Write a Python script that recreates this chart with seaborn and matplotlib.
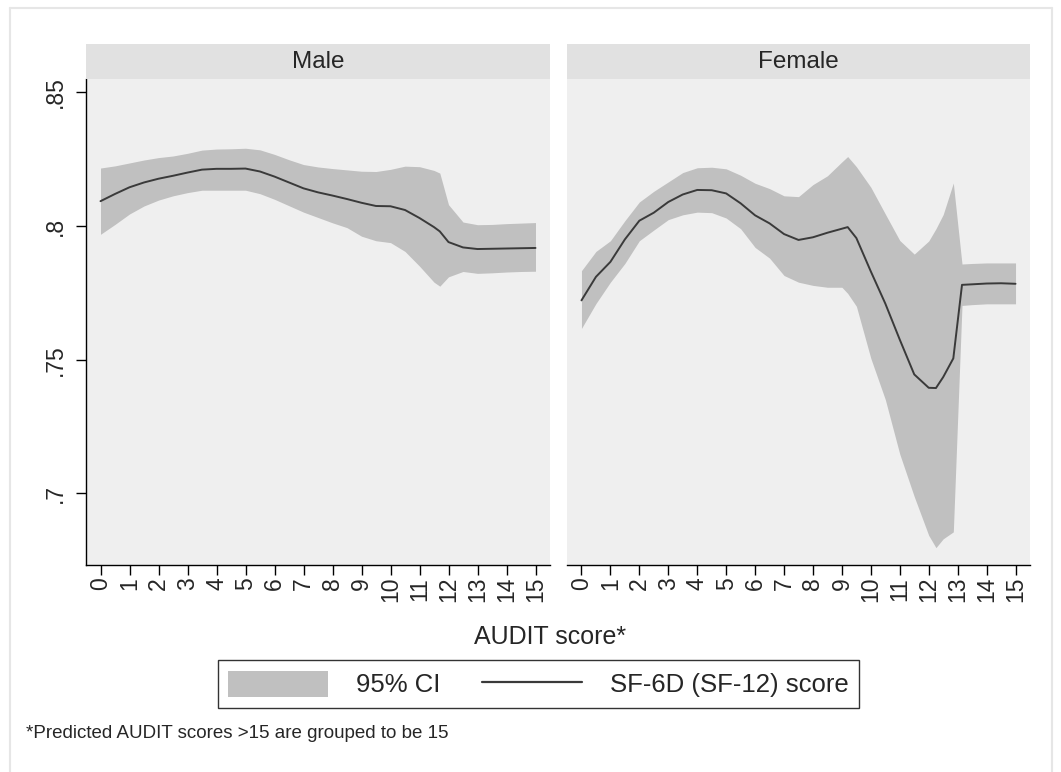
import matplotlib
matplotlib.use("Agg")
import matplotlib.pyplot as plt
import seaborn as sns
import pandas as pd
from matplotlib.patches import Patch
from matplotlib.lines import Line2D

# ---------------- data ----------------
male_score = [0, 0.5, 1, 1.5, 2, 2.5, 3, 3.5, 4, 4.5, 5, 5.5, 6, 6.5, 7, 7.5,
              8, 8.5, 9, 9.5, 10, 10.5, 11, 11.5, 11.7, 12, 12.5, 13, 13.5, 14, 14.5, 15]
male_mean = [0.8093, 0.8120, 0.8145, 0.8163, 0.8177, 0.8188, 0.8200, 0.8211, 0.8214, 0.8214,
             0.8215, 0.8204, 0.8185, 0.8163, 0.8141, 0.8126, 0.8114, 0.8101, 0.8087, 0.8075,
             0.8074, 0.8060, 0.8030, 0.7996, 0.7980, 0.7940, 0.7920, 0.7914, 0.7915, 0.7916,
             0.7917, 0.7918]
male_lo = [0.7969, 0.8006, 0.8045, 0.8075, 0.8097, 0.8113, 0.8125, 0.8134, 0.8134, 0.8134,
           0.8134, 0.8121, 0.8100, 0.8076, 0.8052, 0.8032, 0.8012, 0.7994, 0.7962, 0.7945,
           0.7938, 0.7905, 0.7850, 0.7790, 0.7775, 0.7810, 0.7830, 0.7823, 0.7825, 0.7828,
           0.7830, 0.7831]
male_hi = [0.8217, 0.8225, 0.8236, 0.8247, 0.8256, 0.8262, 0.8272, 0.8284, 0.8288, 0.8289,
           0.8291, 0.8285, 0.8268, 0.8248, 0.8230, 0.8221, 0.8215, 0.8210, 0.8205, 0.8204,
           0.8212, 0.8224, 0.8222, 0.8208, 0.8198, 0.8080, 0.8015, 0.8005, 0.8006, 0.8009,
           0.8011, 0.8013]

female_score = [0, 0.5, 1, 1.5, 2, 2.5, 3, 3.5, 4, 4.5, 5, 5.5, 6, 6.5, 7, 7.5, 8, 8.5,
                9, 9.2, 9.5, 10, 10.5, 11, 11.5, 12, 12.25, 12.5, 12.85, 13.15, 13.5, 14, 14.5, 15]
female_mean = [0.7722, 0.7810, 0.7866, 0.7950, 0.8020, 0.8050, 0.8090, 0.8118, 0.8135, 0.8134,
               0.8122, 0.8085, 0.8040, 0.8010, 0.7970, 0.7948, 0.7958, 0.7975, 0.7990, 0.7996,
               0.7955, 0.7830, 0.7710, 0.7575, 0.7445, 0.7395, 0.7394, 0.7435, 0.7505, 0.7780,
               0.7782, 0.7785, 0.7786, 0.7784]
female_lo = [0.7617, 0.7710, 0.7790, 0.7860, 0.7945, 0.7985, 0.8024, 0.8042, 0.8052, 0.8050,
             0.8030, 0.7990, 0.7920, 0.7880, 0.7815, 0.7790, 0.7778, 0.7771, 0.7771, 0.7748,
             0.7700, 0.7505, 0.7351, 0.7147, 0.6988, 0.6843, 0.6797, 0.6830, 0.6856, 0.7703,
             0.7706, 0.7709, 0.7709, 0.7709]
female_hi = [0.7833, 0.7905, 0.7945, 0.8020, 0.8090, 0.8130, 0.8165, 0.8200, 0.8218, 0.8220,
             0.8214, 0.8190, 0.8160, 0.8140, 0.8113, 0.8110, 0.8155, 0.8188, 0.8240, 0.8260,
             0.8222, 0.8145, 0.8045, 0.7946, 0.7895, 0.7944, 0.7990, 0.8043, 0.8161, 0.7858,
             0.7860, 0.7862, 0.7862, 0.7862]

panel_titles = ["Male", "Female"]
x_ticks = [0, 1, 2, 3, 4, 5, 6, 7, 8, 9, 10, 11, 12, 13, 14, 15]
x_tick_labels = ["0", "1", "2", "3", "4", "5", "6", "7", "8", "9", "10", "11", "12", "13", "14", "15"]
y_ticks = [0.70, 0.75, 0.80, 0.85]
y_tick_labels = [".7", ".75", ".8", ".85"]
x_title = "AUDIT score*"
legend_labels = ["95% CI", "SF-6D (SF-12) score"]
footnote = "*Predicted AUDIT scores >15 are grouped to be 15"

frames = []
for name, sc, mn, lo, hi in [("Male", male_score, male_mean, male_lo, male_hi),
                             ("Female", female_score, female_mean, female_lo, female_hi)]:
    frames.append(pd.DataFrame({"sex": name, "score": sc, "mean": mn, "lo": lo, "hi": hi}))
df = pd.concat(frames, ignore_index=True)

# ---------------- style ----------------
sns.set_theme(style="white")
plt.rcParams["font.family"] = ["Liberation Sans", "DejaVu Sans"]

W, H = 1061, 772
fig = plt.figure(figsize=(W / 100, H / 100), dpi=100)
fig.patch.set_facecolor("white")

PLOT_BG = "#efefef"
STRIP_BG = "#e1e1e1"
CI_COL = "#c0c0c0"
LINE_COL = "#3a3a3a"

TICK_FS = 16.5

top_px, bot_px = 79, 564.5
panels = [(86, 550), (567, 1030)]

for i, (title, (l, r)) in enumerate(zip(panel_titles, panels)):
    ax = fig.add_axes([l / W, 1 - bot_px / H, (r - l) / W, (bot_px - top_px) / H])
    ax.set_facecolor(PLOT_BG)
    sub = df[df["sex"] == title]
    ax.fill_between(sub["score"], sub["lo"], sub["hi"], color=CI_COL, linewidth=0, zorder=1)
    sns.lineplot(data=sub, x="score", y="mean", ax=ax, color=LINE_COL, linewidth=1.4,
                 zorder=2, errorbar=None, sort=False)
    ax.set_xlim(-0.5, 15.5)
    ax.set_ylim(0.6734, 0.855)
    ax.set_xlabel("")
    ax.set_ylabel("")
    for s in ["top", "right"]:
        ax.spines[s].set_visible(False)
    ax.spines["bottom"].set_color("black")
    ax.spines["bottom"].set_linewidth(1.0)
    ax.set_xticks(x_ticks)
    ax.set_xticklabels(x_tick_labels, rotation=90, va="top", ha="center", fontsize=TICK_FS)
    ax.tick_params(axis="x", bottom=True, length=7.5, width=1, pad=1.5, color="black",
                   direction="out")
    if i == 0:
        ax.spines["left"].set_color("black")
        ax.spines["left"].set_linewidth(1.0)
        ax.set_yticks(y_ticks)
        ax.set_yticklabels(y_tick_labels, rotation=90, va="center", fontsize=TICK_FS)
        ax.tick_params(axis="y", left=True, length=7.5, width=1, pad=6, color="black",
                       direction="out")
    else:
        ax.spines["left"].set_visible(False)
        ax.set_yticks(y_ticks)
        ax.tick_params(axis="y", left=False, labelleft=False)
    ax.grid(False)

    # strip
    sax = fig.add_axes([l / W, 1 - top_px / H, (r - l) / W, 35 / H])
    sax.set_facecolor(STRIP_BG)
    sax.set_xticks([])
    sax.set_yticks([])
    for s in sax.spines.values():
        s.set_visible(False)
    sax.text(0.5, 0.5, title, ha="center", va="center", fontsize=17.5, transform=sax.transAxes)

# axis title
fig.text(550 / W, 1 - 637 / H, x_title, ha="center", va="center", fontsize=18)

# legend
handles = [Patch(facecolor=CI_COL, edgecolor="none", label=legend_labels[0]),
           Line2D([], [], color=LINE_COL, linewidth=1.6, label=legend_labels[1])]
leg = fig.legend(handles=handles, ncol=2, loc="center", bbox_to_anchor=(538.5 / W, 1 - 684 / H),
                 frameon=True, fancybox=False, edgecolor="black", fontsize=18.5,
                 handlelength=3.9, handleheight=1.17, handletextpad=1.1, columnspacing=1.6,
                 borderpad=0.4, borderaxespad=0)
leg.get_frame().set_linewidth(1.0)
leg.get_frame().set_facecolor("white")

# footnote
fig.text(26 / W, 1 - 733 / H, footnote, ha="left", va="center", fontsize=13.5)

# faint outer border
for xs, ys in [([9.5, 9.5], [7.5, 772]), ([9.5, 1052], [7.5, 7.5]), ([1052, 1052], [7.5, 772])]:
    fig.add_artist(Line2D([x / W for x in xs], [1 - y / H for y in ys], color="#e6e6e6",
                          linewidth=1.5, transform=fig.transFigure))

fig.savefig("out.png", dpi=100)
